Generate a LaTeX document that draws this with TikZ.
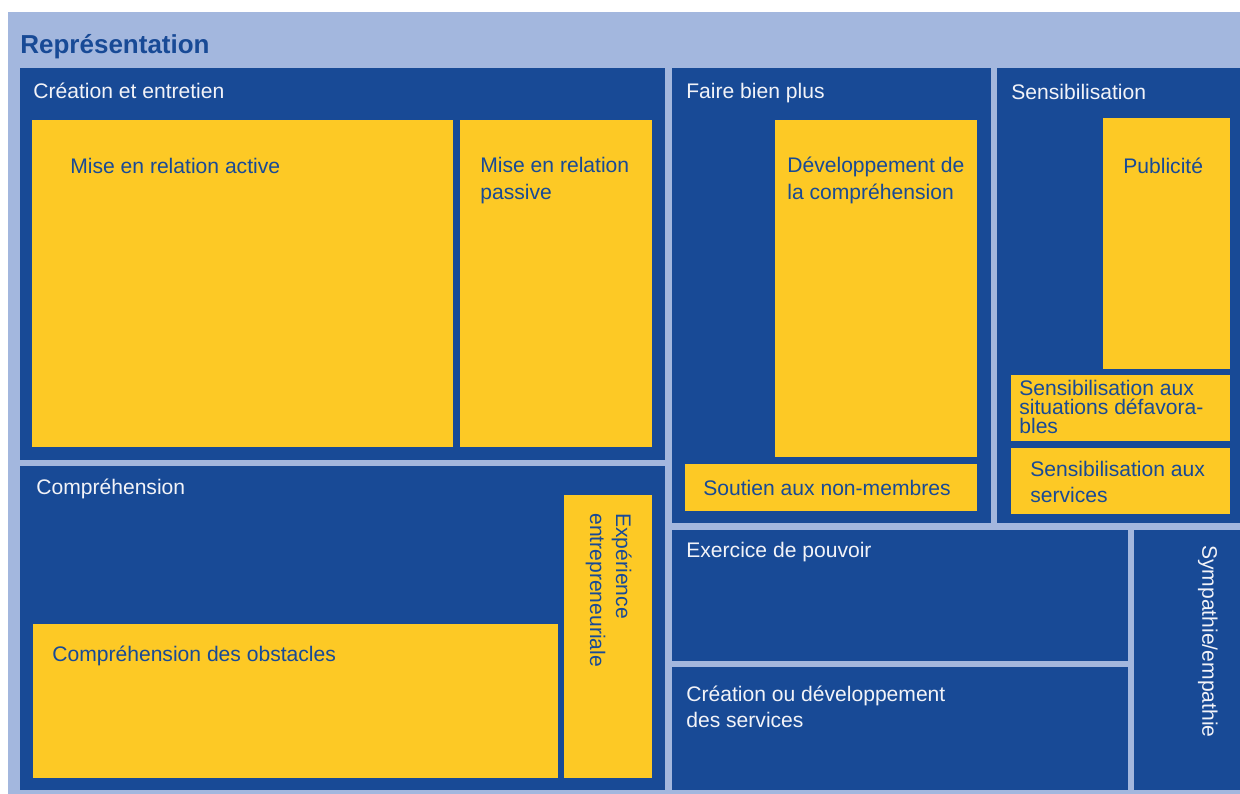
\documentclass[tikz,border=0pt]{standalone}
\usepackage{fontspec}
\setmainfont{Liberation Sans}
\usetikzlibrary{fit}
\definecolor{repback}{HTML}{A3B7DE}
\definecolor{repblue}{HTML}{184A96}
\definecolor{repyellow}{HTML}{FDC925}
\definecolor{reptext}{HTML}{F2F3F8}

\begin{document}
\begin{tikzpicture}[x=0.02cm, y=-0.02cm,
    every node/.style={font=\fontsize{12}{14.8}\selectfont, inner sep=0pt},
    panel/.style={fill=repblue, inner sep=0pt},
    tile/.style={fill=repyellow, inner sep=0pt},
    head/.style={text=reptext, anchor=base west, align=left},
    item/.style={text=repblue, anchor=base west, align=left}]
  \useasboundingbox (0,0) rectangle (1240,794);
  \node[fill=repback, inner sep=0pt, fit={(8,12) (1240,794)}] (frame) {};
  \node[anchor=base west, text=repblue, font=\fontsize{14.8}{18}\selectfont\bfseries] (title) at (20,54) {Représentation};

  % blue panels
  \node[panel, fit={(20,68) (665,460)}] (ce) {};
  \node[panel, fit={(672,68) (991,523)}] (fbp) {};
  \node[panel, fit={(997,68) (1240,523)}] (sens) {};
  \node[panel, fit={(20,466) (665,790)}] (comp) {};
  \node[panel, fit={(672,530) (1128,661)}] (pouv) {};
  \node[panel, fit={(672,667) (1128,790)}] (serv) {};
  \node[panel, fit={(1134,530) (1240,790)}] (symp) {};

  % yellow tiles
  \node[tile, fit={(32,120) (453,447)}] (active) {};
  \node[tile, fit={(460,120) (652,447)}] (passive) {};
  \node[tile, fit={(775,120) (977,457)}] (devcomp) {};
  \node[tile, fit={(685,464) (977,511)}] (soutien) {};
  \node[tile, fit={(1103,118) (1230,369)}] (pub) {};
  \node[tile, fit={(1011,375) (1230,441)}] (situ) {};
  \node[tile, fit={(1011,448) (1230,514)}] (sensserv) {};
  \node[tile, fit={(33,624) (558,778)}] (obst) {};
  \node[tile, fit={(564,495) (652,778)}] (exper) {};

  % panel titles (multi-line ones sit on their last baseline)
  \node[head] (cetxt) at (33,98) {Création et entretien};
  \node[head] (fbptxt) at (686,98) {Faire bien plus};
  \node[head] (senstxt) at (1011,99) {Sensibilisation};
  \node[head] (comptxt) at (36,494) {Compréhension};
  \node[head] (pouvtxt) at (686,557) {Exercice de pouvoir};
  \node[head] (servtxt) at (686,727) {Création ou développement\\des services};
  \node[head, rotate=-90, anchor=north west] (symptxt) at (1218,545) {Sympathie/empathie};

  % tile labels
  \node[item] (activetxt) at (70,173) {Mise en relation active};
  \node[item] (passivetxt) at (480,199) {Mise en relation\\passive};
  \node[item] (devcomptxt) at (787,199) {Développement de\\la compréhension};
  \node[item] (soutientxt) at (703,495) {Soutien aux non-membres};
  \node[item] (pubtxt) at (1123,173) {Publicité};
  \node[item, font=\fontsize{12}{10.6}\selectfont] (situtxt) at (1019,433) {Sensibilisation aux\\situations défavora-\\bles};
  \node[item] (sensservtxt) at (1030,502) {Sensibilisation aux\\services};
  \node[item] (obsttxt) at (52,661) {Compréhension des obstacles};
  \node[item, rotate=-90, anchor=north west] (expertxt) at (632,513) {Expérience\\entrepreneuriale};
\end{tikzpicture}
\end{document}
